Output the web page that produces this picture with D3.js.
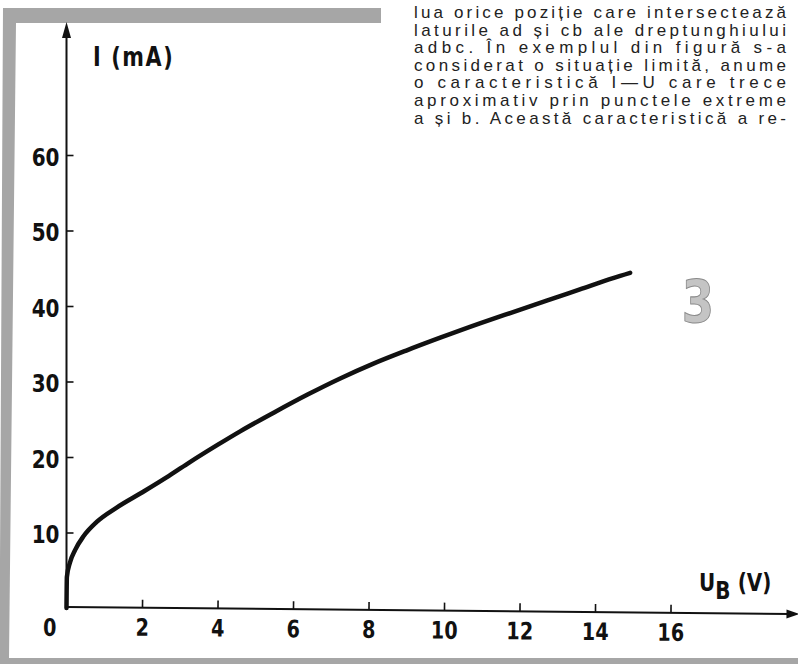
<!DOCTYPE html>
<html>
<head>
<meta charset="utf-8">
<script src="https://cdn.jsdelivr.net/npm/d3@7"></script>
<style>
  body { margin: 0; background: #fff; }
  svg { display: block; }
  .lbl, .tick text { font-family: "DejaVu Sans", sans-serif; font-weight: bold; fill: #111; }
</style>
</head>
<body>
<div id="chart"></div>
<script>

// values (I-U characteristic)
var voltage = [0, 0.01, 0.09, 0.23, 0.45, 0.8, 1.33, 2.0, 2.65, 3.2, 4.0, 4.6, 5.5, 6.4, 7.25, 8.1, 9.0, 9.9, 10.95, 11.83, 12.72, 13.6, 14.48, 14.93];
var current = [0, 4.1, 6.0, 7.7, 9.5, 11.4, 13.3, 15.3, 17.3, 19.1, 21.6, 23.4, 25.9, 28.3, 30.4, 32.3, 34.1, 35.8, 37.7, 39.2, 40.7, 42.2, 43.7, 44.4];
var xTicks = [2, 4, 6, 8, 10, 12, 14, 16];
var yTicks = [10, 20, 30, 40, 50, 60];

// the page text next to the figure
var textLines = [
    "lua orice poziție care intersectează",
    "laturile ad și cb ale dreptunghiului",
    "adbc. În exemplul din figură s-a",
    "considerat o situație limită, anume",
    "o caracteristică I—U care trece",
    "aproximativ prin punctele extreme",
    "a și b. Această caracteristică a re-"
];

var w = 798,
    h = 664,
    squeeze = 0.8,                                 // narrow lettering of the original
    tilt = Math.atan(7 / 730) * 180 / Math.PI;   // scan is a little crooked

var svg = d3.select("#chart")
    .append("svg")
    .attr("width", w)
    .attr("height", h);

//gray page frame
svg.append("polygon")
    .attr("points", "3,8 381,8 381,23 16,23 9,658 798,658 798,664 0,664 0,560 3,8")
    .style("fill", "#a6a6a6");

var x = d3.scaleLinear().domain([0, 16]).range([66.5, 670.5]);
var y = d3.scaleLinear().domain([0, 60]).range([608, 155]);

//x axis, ticks pointing up, labels below
var gx = svg.append("g")
    .attr("transform", "rotate(" + tilt + ",66.5,607) translate(0,607)");

gx.call(d3.axisBottom(x)
        .tickValues(xTicks)
        .tickSize(-8)
        .tickPadding(11)
        .tickFormat(d3.format("d")));
gx.select(".domain").remove();
gx.selectAll(".tick line").style("stroke", "#111").style("stroke-width", 1.6);
gx.selectAll(".tick text")
    .style("font-size", "24px")
    .attr("transform", "scale(" + squeeze + ",1)");

gx.append("line")
    .attr("x1", x(0)).attr("x2", 790)
    .attr("y1", 0).attr("y2", 0)
    .style("stroke", "#111").style("stroke-width", 2);
gx.append("path")
    .attr("d", "M733,0 L720,-4.5 L720,4.5 Z")
    .attr("transform", "translate(" + (x(0)) + ",0)")
    .style("fill", "#111");

gx.append("text")
    .attr("class", "lbl")
    .attr("transform", "translate(50,29) scale(" + squeeze + ",1)")
    .attr("text-anchor", "middle")
    .style("font-size", "24px")
    .text("0");

//y axis, ticks to the right, labels left
var gy = svg.append("g")
    .attr("transform", "translate(66.5,0)");

gy.call(d3.axisLeft(y)
        .tickValues(yTicks)
        .tickSize(-7)
        .tickPadding(6)
        .tickFormat(d3.format("d")));
gy.select(".domain").remove();
gy.selectAll(".tick line").style("stroke", "#111").style("stroke-width", 1.6);
gy.selectAll(".tick text")
    .style("font-size", "25px")
    .attr("dy", "0.4em")
    .attr("x", -7 / squeeze)
    .attr("transform", "scale(" + squeeze + ",1)");

gy.append("line")
    .attr("x1", 0).attr("x2", 0)
    .attr("y1", y(0)).attr("y2", 36)
    .style("stroke", "#111").style("stroke-width", 2);
gy.append("path")
    .attr("d", "M0,22 L-4.5,38 L4.5,38 Z")
    .style("fill", "#111");

//axis titles
svg.append("text")
    .attr("class", "lbl")
    .attr("transform", "translate(93,66) scale(" + squeeze + ",1)")
    .style("font-size", "26px")
    .style("letter-spacing", "2px")
    .text("I (mA)");

var ub = svg.append("text")
    .attr("class", "lbl")
    .attr("transform", "translate(699,591) scale(" + squeeze + ",1)")
    .style("font-size", "25px");
ub.append("tspan").text("U");
ub.append("tspan").attr("dy", 8).text("B");
ub.append("tspan").attr("dy", -8).attr("dx", 9).text("(V)");

//the characteristic curve
var points = d3.zip(voltage, current);

var line = d3.line()
    .x(function(d) { return x(d[0]); })
    .y(function(d) { return y(d[1]); })
    .curve(d3.curveMonotoneX);

svg.append("path")
    .datum(points)
    .attr("d", line)
    .style("fill", "none")
    .style("stroke", "#111")
    .style("stroke-width", 4.5)
    .style("stroke-linecap", "round");

//big figure number
svg.append("text")
    .attr("class", "lbl")
    .attr("transform", "translate(698,322) scale(" + squeeze + ",1)")
    .attr("text-anchor", "middle")
    .style("font-size", "58px")
    .style("fill", "#c4c4c4")
    .style("stroke", "#8a8a8a")
    .style("stroke-width", 1)
    .text("3");

//justified paragraph at the top right
svg.append("g")
    .selectAll("text")
    .data(textLines)
    .enter()
    .append("text")
    .attr("x", 414)
    .attr("y", function(d, i) { return 18 + i * 17.6; })
    .attr("textLength", 372)
    .attr("lengthAdjust", "spacing")
    .style("font-family", "'Liberation Sans', Arial, sans-serif")
    .style("font-size", "17px")
    .style("fill", "#222")
    .text(function(d) { return d; });

</script>
</body>
</html>
